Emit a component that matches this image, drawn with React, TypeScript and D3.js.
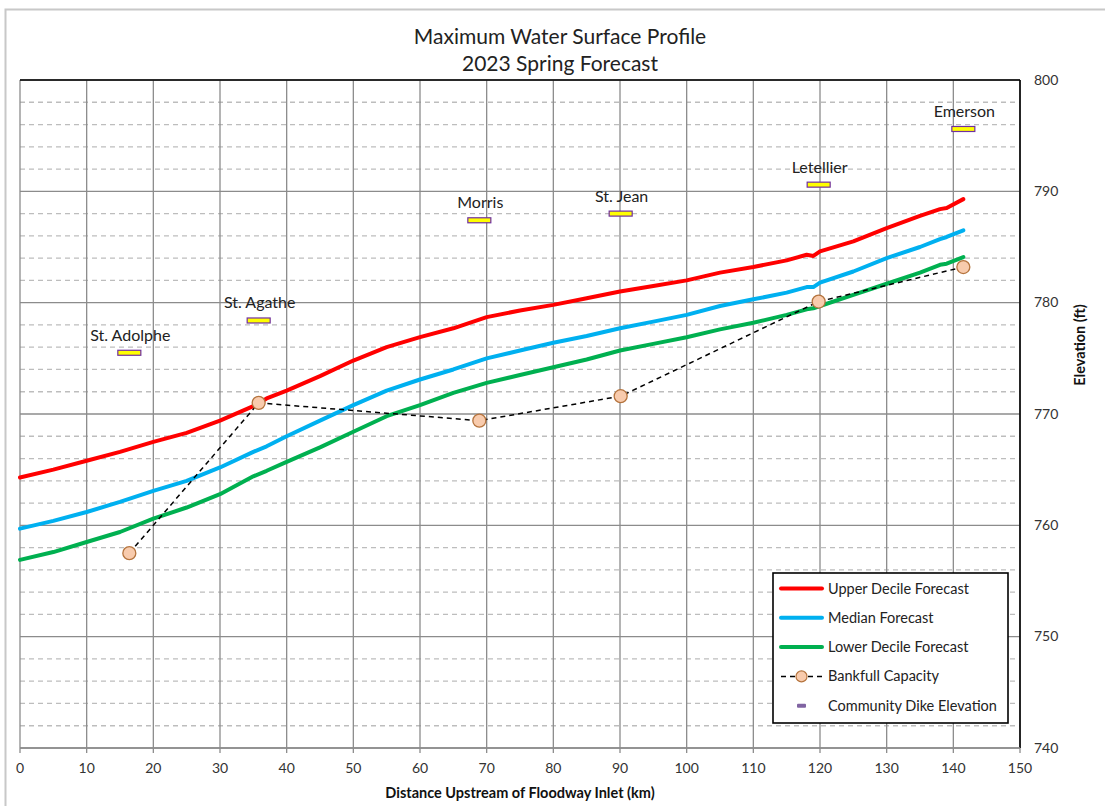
import React from 'react';
import * as d3 from 'd3';

const WIDTH = 1105;
const HEIGHT = 806;
const MARGIN = { top: 80, right: 85, bottom: 58, left: 20 };

const FONT = 'Lato, "Open Sans", sans-serif';

// distance upstream (km) for the forecast profiles
const profileKm = [0, 5, 10, 15, 20, 25, 30, 35, 37, 40, 45, 50, 55, 60, 65, 70, 75, 80, 85, 90, 95, 100, 105, 110, 115, 118, 119, 120, 125, 130, 135, 138, 139, 141.5];
const upperDecile = [764.3, 765.0, 765.8, 766.6, 767.5, 768.3, 769.4, 770.7, 771.4, 772.1, 773.4, 774.8, 776.0, 776.9, 777.7, 778.7, 779.3, 779.8, 780.4, 781.0, 781.5, 782.0, 782.7, 783.2, 783.8, 784.3, 784.2, 784.6, 785.5, 786.7, 787.8, 788.4, 788.5, 789.3];
const median = [759.7, 760.4, 761.2, 762.1, 763.1, 764.0, 765.2, 766.6, 767.1, 768.0, 769.4, 770.8, 772.1, 773.1, 774.0, 775.0, 775.7, 776.4, 777.0, 777.7, 778.3, 778.9, 779.7, 780.3, 780.9, 781.4, 781.4, 781.8, 782.8, 784.0, 785.0, 785.7, 785.9, 786.5];
const lowerDecile = [756.9, 757.6, 758.5, 759.4, 760.6, 761.6, 762.8, 764.4, 764.9, 765.7, 767.0, 768.4, 769.8, 770.8, 771.9, 772.8, 773.5, 774.2, 774.9, 775.7, 776.3, 776.9, 777.6, 778.2, 778.9, 779.4, 779.5, 779.7, 780.7, 781.7, 782.7, 783.4, 783.5, 784.1];

// communities
const communities = ['St. Adolphe', 'St. Agathe', 'Morris', 'St. Jean', 'Letellier', 'Emerson'];
const communityKm = [16.4, 35.8, 68.9, 90.1, 119.8, 141.5];
const bankfull = [757.5, 771.0, 769.4, 771.6, 780.1, 783.2];
const dikeElevation = [775.5, 778.4, 787.4, 788.0, 790.6, 795.6];

const xTicks = d3.range(0, 151, 10);
const yMajorTicks = d3.range(740, 801, 10);
const yMinorTicks = d3.range(740, 801, 2).filter(v => v % 10 !== 0);

const legendItems = ['Upper Decile Forecast', 'Median Forecast', 'Lower Decile Forecast', 'Bankfull Capacity', 'Community Dike Elevation'];

const RED = '#ff0000';
const BLUE = '#00b0f0';
const GREEN = '#00b050';

export default function App() {
  const x = d3.scaleLinear()
    .domain([0, 150])
    .range([MARGIN.left, WIDTH - MARGIN.right]);

  const y = d3.scaleLinear()
    .domain([740, 800])
    .range([HEIGHT - MARGIN.bottom, MARGIN.top]);

  const x0 = x(0);
  const x1 = x(150);
  const y0 = y(740);
  const y1 = y(800);

  const line = d3.line<[number, number]>()
    .x(d => x(d[0]))
    .y(d => y(d[1]));

  const series = [
    { values: upperDecile, color: RED },
    { values: median, color: BLUE },
    { values: lowerDecile, color: GREEN },
  ];

  const bankPts: [number, number][] = communityKm.map((k, i) => [k, bankfull[i]]);

  const legendX = 773;
  const legendY = 573;
  const legendRow = 29.3;

  return (
    <svg
      width={WIDTH}
      height={HEIGHT}
      style={{ position: 'absolute', left: 0, top: 0, background: '#fff' }}
      fontFamily={FONT}
    >
      {/* outer frame */}
      <rect x={5.5} y={9.5} width={WIDTH + 20} height={HEIGHT + 20} fill="none" stroke="#c8c8c8" strokeWidth={2} />

      <text x={560} y={44} textAnchor="middle" fontSize={21} fill="#222">Maximum Water Surface Profile</text>
      <text x={560} y={71} textAnchor="middle" fontSize={21} fill="#222">2023 Spring Forecast</text>

      {/* minor horizontal grid */}
      {yMinorTicks.map(v => (
        <line key={'mn' + v} x1={x0} x2={x1} y1={y(v)} y2={y(v)} stroke="#bdbdbd" strokeWidth={1.3} strokeDasharray="5,4" />
      ))}
      {/* major horizontal grid */}
      {yMajorTicks.map(v => (
        <line key={'mj' + v} x1={x0} x2={x1} y1={y(v)} y2={y(v)} stroke="#8c8c8c" strokeWidth={1.3} />
      ))}
      {/* vertical grid */}
      {xTicks.map(v => (
        <line key={'vx' + v} x1={x(v)} x2={x(v)} y1={y1} y2={y0} stroke="#8c8c8c" strokeWidth={1.3} />
      ))}

      {/* axes */}
      <line x1={x0} x2={x1} y1={y1} y2={y1} stroke="#000" strokeWidth={1.6} />
      <line x1={x1} x2={x1} y1={y1} y2={y0} stroke="#000" strokeWidth={1.6} />
      <line x1={x0} x2={x1} y1={y0} y2={y0} stroke="#8c8c8c" strokeWidth={1.5} />
      {xTicks.map(v => (
        <g key={'xt' + v}>
          <line x1={x(v)} x2={x(v)} y1={y0} y2={y0 + 5} stroke="#8c8c8c" strokeWidth={1.3} />
          <text x={x(v)} y={y0 + 25} textAnchor="middle" fontSize={14} fill="#333">{v}</text>
        </g>
      ))}
      {yMajorTicks.map(v => (
        <text key={'yt' + v} x={x1 + 14} y={y(v) + 4.5} fontSize={14} fill="#333">{v}</text>
      ))}
      <text x={520} y={798} textAnchor="middle" fontSize={14.5} fontWeight="bold" fill="#111">Distance Upstream of Floodway Inlet (km)</text>
      <text transform={`translate(1085, 345) rotate(-90)`} textAnchor="middle" fontSize={14.5} fontWeight="bold" fill="#111">Elevation (ft)</text>

      {/* forecast profiles */}
      {series.map((s, i) => (
        <path
          key={'s' + i}
          d={line(profileKm.map((k, j) => [k, s.values[j]] as [number, number])) || ''}
          fill="none"
          stroke={s.color}
          strokeWidth={4}
          strokeLinejoin="round"
          strokeLinecap="round"
        />
      ))}

      {/* bankfull capacity */}
      <path d={line(bankPts) || ''} fill="none" stroke="#000" strokeWidth={1.5} strokeDasharray="5,4" />
      {bankPts.map((p, i) => (
        <circle key={'b' + i} cx={x(p[0])} cy={y(p[1])} r={6.5} fill="#f8cbad" stroke="#b5743e" strokeWidth={1.3} />
      ))}

      {/* community dikes */}
      {communities.map((name, i) => (
        <g key={'c' + i}>
          <rect x={x(communityKm[i]) - 11.5} y={y(dikeElevation[i]) - 2.5} width={23} height={5} fill="#ffff00" stroke="#7030a0" strokeWidth={1.2} />
          <text x={x(communityKm[i]) + 1} y={y(dikeElevation[i]) - 12} textAnchor="middle" fontSize={16} fill="#222">{name}</text>
        </g>
      ))}

      {/* legend */}
      <rect x={legendX} y={legendY} width={235} height={150} fill="#fff" stroke="#000" strokeWidth={1.6} />
      {legendItems.map((label, i) => {
        const ly = legendY + 15.5 + i * legendRow;
        let sample: React.ReactNode = null;
        if (i < 3) {
          sample = <line x1={legendX + 8} x2={legendX + 49} y1={ly} y2={ly} stroke={[RED, BLUE, GREEN][i]} strokeWidth={4} strokeLinecap="round" />;
        } else if (i === 3) {
          sample = (
            <g>
              <line x1={legendX + 8} x2={legendX + 49} y1={ly} y2={ly} stroke="#000" strokeWidth={1.5} strokeDasharray="5,4" />
              <circle cx={legendX + 28.5} cy={ly} r={5.5} fill="#f8cbad" stroke="#b5743e" strokeWidth={1.2} />
            </g>
          );
        } else {
          sample = <rect x={legendX + 24} y={ly - 2} width={9} height={4} fill="#8064a2" rx={1} />;
        }
        return (
          <g key={'l' + i}>
            {sample}
            <text x={legendX + 55} y={ly + 5} fontSize={14.5} fill="#222">{label}</text>
          </g>
        );
      })}
    </svg>
  );
}
